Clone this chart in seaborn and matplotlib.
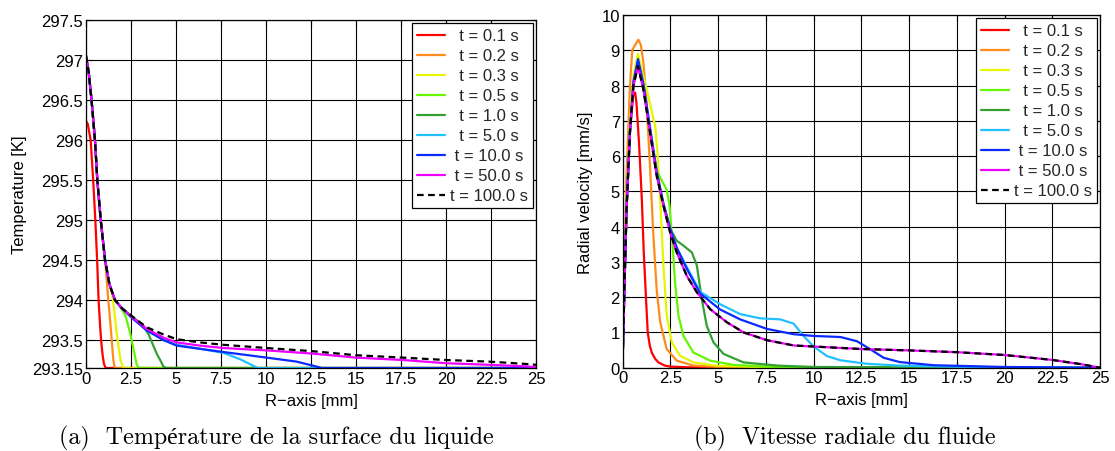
import numpy as np
import pandas as pd
import matplotlib
matplotlib.use('Agg')
import matplotlib.pyplot as plt
import seaborn as sns

# Series labels and colours (t in seconds)
etiquetas = ['t = 0.1 s', 't = 0.2 s', 't = 0.3 s', 't = 0.5 s', 't = 1.0 s',
             't = 5.0 s', 't = 10.0 s', 't = 50.0 s', 't = 100.0 s']
colores = ['#FF0000', '#FF8C1A', '#E6F500', '#66F500', '#33A033',
           '#22C0FF', '#0A2AFF', '#EE00FF', '#000000']

# ---- (a) temperature of the liquid surface [K] vs R [mm]
r_T01 = [0, 0.1, 0.26, 0.4, 0.52, 0.62, 0.7, 0.78, 0.84, 0.92, 1.0, 1.1, 25]
T_01 = [296.24, 296.2, 296.0, 295.5, 295.0, 294.5, 294.0, 293.7, 293.5, 293.32, 293.2, 293.15, 293.15]

r_T02 = [0, 0.15, 0.31, 0.5, 0.63, 0.82, 1.0, 1.1, 1.24, 1.34, 1.43, 1.52, 1.6, 25]
T_02 = [297.05, 296.85, 296.5, 296.0, 295.5, 295.0, 294.62, 294.4, 294.0, 293.75, 293.5, 293.25, 293.15, 293.15]

r_T03 = [0, 0.15, 0.31, 0.5, 0.63, 0.82, 1.06, 1.3, 1.45, 1.58, 1.7, 1.82, 1.92, 2.07, 25]
T_03 = [297.05, 296.85, 296.5, 296.0, 295.5, 295.0, 294.5, 294.2, 294.08, 293.85, 293.6, 293.4, 293.25, 293.15, 293.15]

r_T05 = [0, 0.15, 0.31, 0.5, 0.63, 0.82, 1.06, 1.3, 1.61, 2.0, 2.2, 2.44, 2.63, 2.81, 2.92, 25]
T_05 = [297.07, 296.87, 296.5, 296.0, 295.5, 295.0, 294.5, 294.2, 294.0, 293.88, 293.8, 293.6, 293.4, 293.2, 293.15, 293.15]

r_T1 = [0, 0.15, 0.31, 0.5, 0.63, 0.82, 1.06, 1.3, 1.61, 1.98, 2.54, 3.19, 3.5, 3.74, 3.95, 4.1, 4.3, 4.45, 25]
T_1 = [297.05, 296.85, 296.5, 296.0, 295.5, 295.0, 294.5, 294.2, 294.0, 293.9, 293.8, 293.68, 293.56, 293.43, 293.32, 293.26, 293.17, 293.15, 293.15]

r_T5 = [0, 0.15, 0.31, 0.5, 0.63, 0.82, 1.06, 1.3, 1.61, 1.98, 2.54, 3.37, 4.3, 5.04, 6.33, 7.63, 8.56, 9.1, 9.55, 25]
T_5 = [297.05, 296.85, 296.5, 296.0, 295.5, 295.0, 294.5, 294.2, 294.0, 293.9, 293.78, 293.63, 293.5, 293.44, 293.39, 293.34, 293.26, 293.2, 293.15, 293.15]

r_T10 = [0, 0.15, 0.31, 0.5, 0.63, 0.82, 1.06, 1.3, 1.61, 1.98, 2.54, 3.37, 4.3, 5.04, 6.33, 7.63, 10.04, 11.7, 12.6, 13.1, 25]
T_10 = [297.05, 296.85, 296.5, 296.0, 295.5, 295.0, 294.5, 294.2, 294.0, 293.9, 293.78, 293.62, 293.5, 293.43, 293.39, 293.35, 293.28, 293.23, 293.18, 293.15, 293.15]

r_T50 = [0, 0.15, 0.31, 0.5, 0.63, 0.82, 1.06, 1.3, 1.61, 1.98, 2.54, 3.37, 4.3, 5.04, 6.33, 7.63, 10.04, 12.6, 15.0, 17.6, 20.0, 22.4, 24.5, 25]
T_50 = [297.05, 296.85, 296.5, 296.0, 295.5, 295.0, 294.5, 294.2, 294.0, 293.9, 293.79, 293.64, 293.53, 293.47, 293.43, 293.4, 293.37, 293.33, 293.28, 293.25, 293.21, 293.19, 293.17, 293.16]

r_T100 = [0, 0.15, 0.31, 0.5, 0.63, 0.82, 1.06, 1.3, 1.61, 1.98, 2.54, 3.37, 4.3, 5.04, 6.33, 7.63, 10.04, 12.6, 15.0, 17.6, 20.0, 22.4, 24.5, 25]
T_100 = [297.05, 296.85, 296.5, 296.0, 295.5, 295.0, 294.5, 294.2, 294.0, 293.9, 293.8, 293.66, 293.57, 293.51, 293.47, 293.44, 293.4, 293.36, 293.31, 293.28, 293.25, 293.23, 293.2, 293.19]

# ---- (b) radial velocity of the fluid [mm/s] vs R [mm]
r_v01 = [0, 0.1, 0.2, 0.38, 0.56, 0.65, 0.72, 0.85, 1.0, 1.1, 1.22, 1.31, 1.42, 1.52, 1.7, 1.87, 2.2, 2.5, 3.5, 25]
v_01 = [0.3, 2.5, 4.5, 6.7, 7.8, 7.8, 7.5, 6.4, 4.78, 3.3, 1.95, 1.0, 0.62, 0.43, 0.25, 0.15, 0.06, 0.03, 0.01, 0]

r_v02 = [0, 0.1, 0.2, 0.38, 0.5, 0.65, 0.82, 0.95, 1.08, 1.2, 1.29, 1.43, 1.6, 1.78, 1.96, 2.3, 2.83, 3.7, 5.0, 25]
v_02 = [0.3, 3.0, 5.5, 8.0, 9.0, 9.15, 9.3, 9.15, 8.66, 7.9, 7.1, 5.7, 3.8, 2.2, 1.3, 0.53, 0.2, 0.06, 0.02, 0]

r_v03 = [0, 0.1, 0.2, 0.38, 0.56, 0.8, 1.08, 1.26, 1.5, 1.7, 1.82, 1.96, 2.13, 2.31, 2.57, 3.0, 3.7, 4.9, 7.0, 25]
v_03 = [0.3, 2.6, 4.6, 6.9, 8.3, 8.9, 8.25, 7.9, 7.3, 6.86, 6.1, 4.78, 2.9, 1.47, 0.72, 0.34, 0.15, 0.06, 0.02, 0]

r_v05 = [0, 0.1, 0.2, 0.38, 0.56, 0.8, 1.08, 1.43, 1.78, 2.0, 2.3, 2.45, 2.6, 2.74, 2.92, 3.18, 3.7, 4.58, 5.8, 8.0, 25]
v_05 = [0.3, 2.5, 4.5, 6.8, 8.1, 8.7, 8.0, 6.75, 5.6, 5.35, 5.05, 4.6, 3.6, 2.42, 1.47, 0.9, 0.43, 0.2, 0.08, 0.02, 0]

r_v1 = [0, 0.1, 0.2, 0.38, 0.56, 0.8, 1.08, 1.43, 1.78, 2.13, 2.48, 2.83, 3.18, 3.62, 3.88, 4.14, 4.4, 4.75, 5.28, 6.33, 8.1, 10.0, 25]
v_1 = [0.3, 2.5, 4.5, 6.7, 8.0, 8.6, 7.95, 6.7, 5.5, 4.65, 3.95, 3.6, 3.46, 3.27, 2.9, 1.95, 1.19, 0.72, 0.39, 0.15, 0.06, 0.02, 0]

r_v5 = [0, 0.1, 0.2, 0.38, 0.56, 0.8, 1.08, 1.43, 1.78, 2.13, 2.48, 2.83, 3.36, 4.06, 5.1, 6.15, 7.2, 8.25, 8.95, 9.47, 10.0, 10.7, 11.4, 12.8, 14.5, 18.0, 25]
v_5 = [0.3, 2.5, 4.5, 6.7, 8.1, 8.7, 8.05, 6.8, 5.55, 4.65, 3.95, 3.4, 2.85, 2.15, 1.8, 1.52, 1.4, 1.37, 1.25, 0.9, 0.6, 0.33, 0.21, 0.11, 0.06, 0.02, 0]

r_v10 = [0, 0.1, 0.2, 0.38, 0.56, 0.8, 1.08, 1.43, 1.78, 2.13, 2.48, 2.83, 3.36, 4.06, 5.1, 6.15, 7.55, 8.95, 10.0, 11.4, 12.27, 12.97, 13.67, 14.5, 16.3, 20.0, 25]
v_10 = [0.3, 2.5, 4.5, 6.7, 8.1, 8.75, 8.05, 6.8, 5.55, 4.65, 3.95, 3.4, 2.8, 2.1, 1.65, 1.37, 1.1, 0.95, 0.9, 0.87, 0.75, 0.52, 0.28, 0.16, 0.07, 0.02, 0]

r_v50 = [0, 0.1, 0.2, 0.38, 0.56, 0.8, 1.08, 1.43, 1.78, 2.13, 2.48, 2.83, 3.36, 3.88, 4.58, 5.45, 6.33, 7.55, 8.95, 10.0, 12.5, 15.0, 17.5, 20.0, 22.5, 24.0, 25]
v_50 = [0.3, 2.5, 4.5, 6.7, 8.0, 8.55, 7.9, 6.67, 5.44, 4.6, 3.84, 3.27, 2.6, 2.14, 1.66, 1.29, 1.0, 0.78, 0.63, 0.6, 0.53, 0.49, 0.44, 0.36, 0.22, 0.1, 0]

r_v100 = [0, 0.1, 0.2, 0.38, 0.56, 0.8, 1.08, 1.43, 1.78, 2.13, 2.48, 2.83, 3.36, 3.88, 4.58, 5.45, 6.33, 7.55, 8.95, 10.0, 12.5, 15.0, 17.5, 20.0, 22.5, 24.0, 25]
v_100 = [0.3, 2.5, 4.5, 6.7, 8.0, 8.55, 7.9, 6.67, 5.44, 4.6, 3.84, 3.27, 2.6, 2.14, 1.66, 1.29, 1.0, 0.78, 0.63, 0.6, 0.53, 0.49, 0.44, 0.36, 0.22, 0.1, 0]

x_ticks = [0, 2.5, 5, 7.5, 10, 12.5, 15, 17.5, 20, 22.5, 25]
x_ticklabels = ['0', '2.5', '5', '7.5', '10', '12.5', '15', '17.5', '20', '22.5', '25']
T_ticks = [293.15, 293.5, 294, 294.5, 295, 295.5, 296, 296.5, 297, 297.5]
T_ticklabels = ['293.15', '293.5', '294', '294.5', '295', '295.5', '296', '296.5', '297', '297.5']
v_ticks = list(range(0, 11))

curvas_T = [(r_T01, T_01), (r_T02, T_02), (r_T03, T_03), (r_T05, T_05), (r_T1, T_1),
            (r_T5, T_5), (r_T10, T_10), (r_T50, T_50), (r_T100, T_100)]
curvas_v = [(r_v01, v_01), (r_v02, v_02), (r_v03, v_03), (r_v05, v_05), (r_v1, v_1),
            (r_v5, v_5), (r_v10, v_10), (r_v50, v_50), (r_v100, v_100)]

sns.set_theme(style='white')
plt.rcParams['font.family'] = ['Liberation Sans', 'DejaVu Sans']
plt.rcParams['font.size'] = 12

fig = plt.figure(figsize=(11.15, 4.52), dpi=100)
ax1 = fig.add_axes([0.0771, 0.1836, 0.4036, 0.7699])
ax2 = fig.add_axes([0.5585, 0.1843, 0.4281, 0.7803])


def etiqueta_centrada(lab):
    # legend text looks centred in the original, pad shorter labels with spaces
    n = len('t = 100.0 s') - len(lab)
    return ' ' * n + lab + ' ' * n


for ax, curvas in [(ax1, curvas_T), (ax2, curvas_v)]:
    for i, (xx, yy) in enumerate(curvas):
        df = pd.DataFrame({'r': xx, 'y': yy})
        if i == 8:
            sns.lineplot(data=df, x='r', y='y', ax=ax, color=colores[i], lw=1.6,
                         dashes=False, label=etiqueta_centrada(etiquetas[i]),
                         sort=False, estimator=None)
            ax.lines[-1].set_dashes((3, 2))
        else:
            sns.lineplot(data=df, x='r', y='y', ax=ax, color=colores[i], lw=1.6,
                         label=etiqueta_centrada(etiquetas[i]),
                         sort=False, estimator=None)
    ax.set_xlim(0, 25)
    ax.set_xticks(x_ticks)
    ax.set_xticklabels(x_ticklabels)
    ax.grid(True, color='black', lw=0.8)
    ax.tick_params(direction='in', length=4, width=0.8, colors='black', labelsize=12,
                   pad=2, top=True, right=True, bottom=True, left=True)
    for s in ax.spines.values():
        s.set_color('black')
        s.set_linewidth(0.9)
    ax.set_xlabel('R\u2212axis [mm]', fontsize=12, labelpad=5, color='black')
    leg = ax.legend(loc='upper right', fontsize=12, frameon=True, fancybox=False,
                    edgecolor='black', framealpha=1, borderaxespad=0.2,
                    handlelength=1.65, handletextpad=0.3, labelspacing=0.3,
                    borderpad=0.3)
    leg.get_frame().set_linewidth(0.9)

ax1.set_ylim(293.15, 297.5)
ax1.set_yticks(T_ticks)
ax1.set_yticklabels(T_ticklabels)
ax1.set_ylabel('Temperature [K]', fontsize=12, labelpad=4, color='black')

ax2.set_ylim(0, 10)
ax2.set_yticks(v_ticks)
ax2.set_ylabel('Radial velocity [mm/s]', fontsize=12, labelpad=6, color='black')

fig.text(0.248, 0.029, '(a)  Température de la surface du liquide', ha='center', va='center',
         fontsize=17.3, family=['cmr10', 'Liberation Serif'], color='black')
fig.text(0.758, 0.029, '(b)  Vitesse radiale du fluide', ha='center', va='center',
         fontsize=17.3, family=['cmr10', 'Liberation Serif'], color='black')

fig.savefig('out.png', dpi=100, facecolor='white')
